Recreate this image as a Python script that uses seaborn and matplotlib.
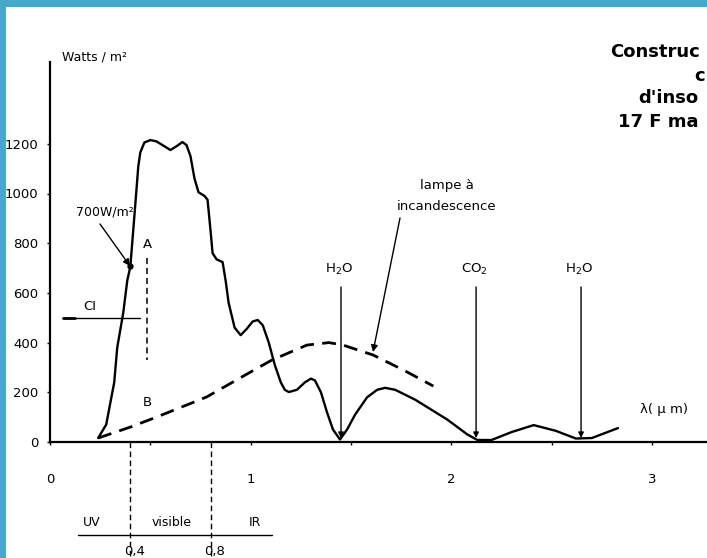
import numpy as np
import pandas as pd
import matplotlib
matplotlib.use("Agg")
import matplotlib.pyplot as plt
import seaborn as sns
from matplotlib.patches import Rectangle

# ---------------- data ----------------
sun_wl = [0.24, 0.28, 0.32, 0.335, 0.365, 0.385, 0.40, 0.42, 0.44, 0.45, 0.47,
          0.50, 0.53, 0.56, 0.60, 0.63, 0.66, 0.68, 0.70, 0.72, 0.74, 0.77,
          0.785, 0.80, 0.81, 0.83, 0.86, 0.875, 0.89, 0.92, 0.95, 0.98, 1.01,
          1.035, 1.06, 1.09, 1.12, 1.15, 1.17, 1.19, 1.23, 1.27, 1.30, 1.32,
          1.35, 1.38, 1.41, 1.445, 1.48, 1.52, 1.58, 1.63, 1.67, 1.72, 1.82,
          1.98, 2.08, 2.13, 2.20, 2.30, 2.41, 2.52, 2.62, 2.70, 2.83]
sun_w = [16, 70, 240, 380, 520, 650, 704, 905, 1110, 1165, 1205,
         1215, 1210, 1195, 1175, 1190, 1207, 1195, 1150, 1060, 1005, 990,
         975, 850, 760, 735, 724, 650, 560, 460, 430, 455, 485,
         491, 470, 400, 310, 240, 210, 201, 210, 240, 255, 248,
         200, 120, 50, 10, 50, 110, 180, 210, 218, 210, 170,
         90, 30, 8, 8, 40, 68, 45, 14, 16, 56]

lamp_wl = [0.24, 0.40, 0.53, 0.78, 1.00, 1.106, 1.28, 1.39, 1.46, 1.61, 1.76, 1.91]
lamp_w = [16, 60, 100, 181, 282, 330, 390, 400, 390, 350, 290, 225]

y_ticks = [0, 200, 400, 600, 800, 1000, 1200]
x_ticks = [0, 1, 2, 3]
x_minor = [0.5, 1.5, 2.5]

absorption_labels = ["H$_2$O", "CO$_2$", "H$_2$O"]
absorption_wl = [1.45, 2.123, 2.646]

band_labels = ["UV", "visible", "IR"]
band_bounds = [0.4, 0.8]
band_bound_labels = ["0,4", "0,8"]

# ---------------- figure ----------------
sns.set_style("white")
plt.rcParams['font.family'] = ['DejaVu Sans']
plt.rcParams['text.color'] = 'black'
plt.rcParams['xtick.color'] = 'black'
plt.rcParams['ytick.color'] = 'black'

W, H = 707, 558
fig = plt.figure(figsize=(W / 100, H / 100), dpi=100)
fig.patch.set_facecolor("white")

# axes: x pixel 50..707 , y pixel 442..62
ax = fig.add_axes([50 / W, (H - 442) / H, (W - 50) / W, (442 - 62) / H])
px_per_um = 200.7
px_per_w = 0.2485
ax.set_xlim(0, (W - 50) / px_per_um)
ax.set_ylim(0, (442 - 62) / px_per_w)


def py(y_pix):
    return (442 - y_pix) / px_per_w


def px(x_pix):
    return (x_pix - 50) / px_per_um


sun = pd.DataFrame({"wl": sun_wl, "w": sun_w})
lamp = pd.DataFrame({"wl": lamp_wl, "w": lamp_w})

sns.lineplot(data=sun, x="wl", y="w", ax=ax, color="black", linewidth=1.7,
             estimator=None, sort=False)
ax.lines[-1].set_solid_joinstyle("round")
sns.lineplot(data=lamp, x="wl", y="w", ax=ax, color="black", linewidth=2.0,
             estimator=None, sort=False)
ax.lines[-1].set_linestyle((0, (5, 3)))

for s in ["top", "right"]:
    ax.spines[s].set_visible(False)
for s in ["left", "bottom"]:
    ax.spines[s].set_linewidth(1.6)
    ax.spines[s].set_color("black")

ax.set_xlabel("")
ax.set_ylabel("")
ax.set_yticks(y_ticks)
ax.set_yticklabels([str(v) for v in y_ticks], fontsize=9.5)
ax.set_xticks(x_ticks)
ax.set_xticklabels([str(v) for v in x_ticks], fontsize=9.5)
ax.set_xticks(x_minor, minor=True)
ax.tick_params(axis="y", length=2.5, width=1, pad=6, left=True, direction="out")
ax.tick_params(axis="x", which="major", length=2.5, width=1, pad=20, bottom=True)
ax.tick_params(axis="x", which="minor", length=2.5, width=1, bottom=True)

# axis labels
ax.text(px(62), py(57), "Watts / m²", fontsize=9, ha="left", va="center", clip_on=False)
ax.text(px(664), py(410), "λ( μ m)", fontsize=9.5, ha="center", va="center")

# absorption arrows
for lab, wl in zip(absorption_labels, absorption_wl):
    ax.annotate("", xy=(wl, py(438)), xytext=(wl, py(287)),
                arrowprops=dict(arrowstyle="-|>", color="black", lw=1.0,
                                mutation_scale=8, shrinkA=0, shrinkB=0))
    ax.text(wl - 0.01, py(269), lab, fontsize=9.5, ha="center", va="center")

# lamp annotation
ax.text(px(447), py(185), "lampe à", fontsize=9.5, ha="center", va="center")
ax.text(px(447), py(207), "incandescence", fontsize=9.5, ha="center", va="center")
ax.annotate("", xy=(px(373), py(352)), xytext=(px(400), py(218)),
            arrowprops=dict(arrowstyle="-|>", color="black", lw=1.0,
                            mutation_scale=10, shrinkA=0, shrinkB=0))

# 700 W/m2 annotation
ax.text(px(105), py(212), "700W/m²", fontsize=9, ha="center", va="center")
ax.annotate("", xy=(px(130), py(266)), xytext=(px(100), py(224)),
            arrowprops=dict(arrowstyle="-|>", color="black", lw=1.0,
                            mutation_scale=10, shrinkA=0, shrinkB=0))
ax.plot([px(130)], [py(266)], marker="o", color="black", markersize=3.5)

# A - B dashed line
ax.plot([px(147), px(147)], [py(258), py(360)], color="black", lw=1.1,
        linestyle=(0, (4, 2.5)))
ax.text(px(147), py(245), "A", fontsize=9.5, ha="center", va="center")
ax.text(px(147), py(402), "B", fontsize=9.5, ha="center", va="center")

# CI line
ax.plot([px(63), px(140)], [py(318), py(318)], color="black", lw=1.0, clip_on=False)
ax.plot([px(63), px(75)], [py(318), py(318)], color="black", lw=2.0, clip_on=False)
ax.text(px(90), py(306), "CI", fontsize=9.5, ha="center", va="center", clip_on=False)

# band limits below the axis
for b in band_bounds:
    ax.plot([b, b], [0, py(560)], color="black", lw=1.0, linestyle=(0, (4, 2.5)),
            clip_on=False)
for b, lab in zip(band_bounds, band_bound_labels):
    ax.text(b + 0.02, py(545), lab, fontsize=9.5, ha="center", va="top", clip_on=False)
ax.plot([px(78), px(272)], [py(535), py(535)], color="black", lw=1.0, clip_on=False)
for lab, xp in zip(band_labels, [92, 172, 255]):
    ax.text(px(xp), py(522), lab, fontsize=9, ha="center", va="center", clip_on=False)

# clipped neighbouring-column text at top right
fig.text(610 / W, 1 - 52 / H, "Construc", fontsize=13, fontweight="bold",
         ha="left", va="center")
fig.text(705 / W, 1 - 76 / H, "c", fontsize=13, fontweight="bold",
         ha="right", va="center")
fig.text(638 / W, 1 - 98 / H, "d'inso", fontsize=13, fontweight="bold",
         ha="left", va="center")
fig.text(618 / W, 1 - 122 / H, "17 F ma", fontsize=13, fontweight="bold",
         ha="left", va="center")

# teal page border (top and left)
fig.patches.append(Rectangle((0, 1 - 7 / H), 1, 7 / H, transform=fig.transFigure,
                             facecolor="#46a9c9", edgecolor="none", zorder=0))
fig.patches.append(Rectangle((0, 0), 6 / W, 1, transform=fig.transFigure,
                             facecolor="#46a9c9", edgecolor="none", zorder=0))

fig.savefig("out.png", dpi=100, facecolor="white")
